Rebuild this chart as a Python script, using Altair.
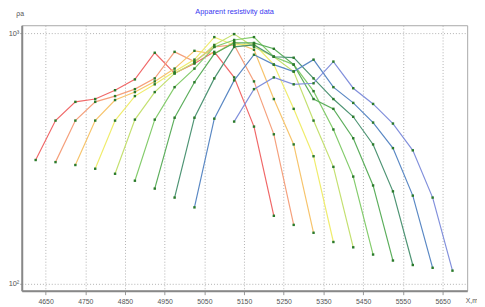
import altair as alt
import pandas as pd

# station spacing (m) and first station of each curve
curve_names = ["c1", "c2", "c3", "c4", "c5", "c6", "c7", "c8", "c9", "c10"]
curve_start = [4625, 4675, 4725, 4775, 4825, 4875, 4925, 4975, 5025, 5125]
curve_colors = ["#f06868", "#f5a07c", "#f7c46c", "#f0ec6c", "#c4e070",
                "#84cc6c", "#5cae5c", "#4e9474", "#5a88c4", "#8290dc"]

# apparent resistivity values (ohm.m), 50 m apart
rho_c1 = [312, 448, 532, 546, 592, 654, 835, 691, 756, 842, 666, 424, 187]
rho_c2 = [306, 448, 532, 561, 598, 660, 842, 770, 881, 897, 642, 395, 172]
rho_c3 = [298, 448, 541, 582, 642, 722, 850, 827, 922, 858, 546, 360, 160]
rho_c4 = [288, 448, 561, 625, 703, 784, 964, 897, 906, 749, 499, 323, 147]
rho_c5 = [275, 452, 582, 691, 763, 897, 991, 881, 805, 703, 448, 293, 140]
rho_c6 = [258, 452, 609, 722, 881, 939, 964, 805, 749, 587, 413, 268, 131]
rho_c7 = [240, 460, 637, 827, 914, 914, 866, 749, 546, 499, 381, 247, 124]
rho_c8 = [221, 460, 660, 881, 897, 805, 798, 660, 546, 464, 360, 234, 119]
rho_c9 = [202, 456, 648, 820, 749, 703, 784, 609, 527, 440, 348, 225, 116]
rho_c10 = [444, 598, 666, 625, 631, 770, 603, 522, 436, 341, 221, 113]

x_ticks = list(range(4650, 5651, 50))
y_ticks = [100, 1000]

all_rho = [rho_c1, rho_c2, rho_c3, rho_c4, rho_c5, rho_c6, rho_c7, rho_c8, rho_c9, rho_c10]
rows = []
for name, start, vals in zip(curve_names, curve_start, all_rho):
    for j, v in enumerate(vals):
        rows.append({"curve": name, "X": start + 50 * j, "rho": v})
df = pd.DataFrame(rows)

xs = alt.X("X:Q",
           scale=alt.Scale(domain=[4590, 5712], nice=False, zero=False),
           axis=alt.Axis(values=x_ticks, format="d", grid=True,
                         gridDash=[1, 2], gridColor="#b0b0b0",
                         title="X,m", titleX=451, titleY=10, titleAlign="left",
                         titleBaseline="middle", titleFontSize=7,
                         titleFontWeight="normal", titleColor="#555",
                         labelFontSize=7, labelColor="#555", labelPadding=3,
                         tickSize=4, tickColor="#999",
                         domainColor="#888", domainWidth=2))
ys = alt.Y("rho:Q",
           scale=alt.Scale(type="log", domain=[94, 1075], nice=False),
           axis=alt.Axis(values=y_ticks, grid=True, gridDash=[1, 2],
                         gridColor="#b0b0b0",
                         labelExpr="datum.value == 1000 ? '10³' : '10²'",
                         labelFontSize=7.5, labelColor="#555", labelPadding=1,
                         tickSize=2, tickColor="#999",
                         domainColor="#888", domainWidth=2,
                         title="ρa", titleAngle=0, titleX=-6, titleY=-9,
                         titleAlign="left", titleFontSize=7,
                         titleFontWeight="normal", titleColor="#555"))
col = alt.Color("curve:N", scale=alt.Scale(domain=curve_names, range=curve_colors),
                legend=None)

lines = alt.Chart(df).mark_line(strokeWidth=1.2).encode(x=xs, y=ys, color=col, detail="curve:N")
points = alt.Chart(df).mark_square(size=6, color="#2a7a2a", opacity=1).encode(
    x="X:Q", y="rho:Q", detail="curve:N")

chart = (lines + points).properties(
    width=453, height=270,
    padding={"left": 14, "top": 15, "right": 10, "bottom": 12},
    autosize=alt.AutoSizeParams(type="none"),
    title=alt.TitleParams("Apparent resistivity data", fontSize=7.5,
                          fontWeight="normal", color="#3838f0",
                          anchor="middle", dx=-10, dy=6, offset=0, frame="group",
                          font="Liberation Sans"),
).configure_view(stroke="#a8a8a8", strokeWidth=1).configure_axis(
    labelFont="Liberation Sans", titleFont="Liberation Sans")

chart.save("out.html", embed_options={"renderer": "svg", "actions": False})
